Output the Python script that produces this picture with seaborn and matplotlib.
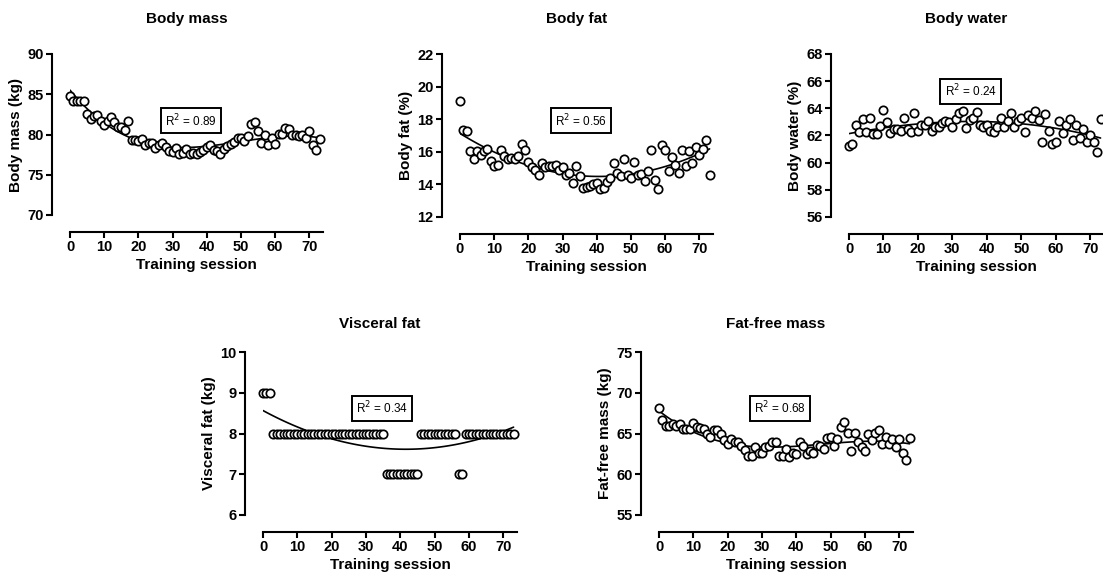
import numpy as np
import matplotlib
matplotlib.use("Agg")
import matplotlib.pyplot as plt
import seaborn as sns

sns.set_style("ticks")
plt.rcParams['font.family'] = ['Liberation Sans', 'DejaVu Sans']
plt.rcParams.update({"text.color": "black", "axes.labelcolor": "black",
                     "axes.edgecolor": "black", "xtick.color": "black",
                     "ytick.color": "black"})

# sessions 0..73
session = np.arange(74)

body_mass = [84.8, 84.2, 84.2, 84.2, 84.1, 82.5, 81.9, 82.3, 82.4, 81.7,
             81.2, 81.7, 82.2, 81.6, 80.9, 80.9, 80.6, 81.7, 79.3, 79.3,
             79.2, 79.5, 78.7, 78.9, 78.9, 78.3, 78.7, 79.0, 78.4, 78.0,
             77.8, 78.3, 77.6, 77.7, 78.2, 77.6, 77.7, 77.6, 77.8, 78.1,
             78.5, 78.7, 78.1, 78.0, 77.6, 78.2, 78.6, 78.8, 79.1, 79.6,
             79.6, 79.2, 79.8, 81.3, 81.5, 80.4, 78.9, 80.0, 78.7, 79.6,
             78.8, 80.1, 80.1, 80.8, 80.7, 80.0, 79.9, 79.8, 79.9, 79.6,
             80.4, 78.7, 78.1, 79.4]

body_fat = [19.1, 17.35, 17.3, 16.05, 15.55, 16.05, 15.8, 16.05, 16.15, 15.45,
            15.1, 15.2, 16.1, 15.75, 15.55, 15.65, 15.55, 15.75, 16.5, 16.1,
            15.35, 15.05, 14.9, 14.6, 15.3, 15.05, 15.1, 15.15, 15.2, 14.9,
            15.05, 14.55, 14.7, 14.1, 15.1, 14.5, 13.8, 13.85, 13.9, 14.05,
            14.1, 13.7, 13.75, 14.15, 14.4, 15.3, 14.7, 14.5, 15.55, 14.6,
            14.4, 15.4, 14.6, 14.65, 14.2, 14.8, 16.1, 14.3, 13.7, 16.4,
            16.1, 14.8, 15.7, 15.2, 14.7, 16.1, 15.1, 16.05, 15.3, 16.3,
            15.8, 16.2, 16.7, 14.6]

body_water = [61.2, 61.4, 62.8, 62.25, 63.25, 62.25, 63.3, 62.1, 62.1, 62.7,
              63.9, 63.0, 62.15, 62.5, 62.45, 62.35, 63.3, 62.45, 62.25, 63.65,
              62.35, 62.8, 62.75, 63.1, 62.35, 62.65, 62.65, 62.9, 63.1, 63.0,
              62.65, 63.2, 63.65, 63.8, 62.55, 63.15, 63.3, 63.75, 62.8, 62.6,
              62.8, 62.35, 62.25, 62.65, 63.3, 62.6, 63.1, 63.65, 62.6, 63.1,
              63.3, 62.25, 63.5, 63.3, 63.8, 63.15, 61.55, 63.6, 62.35, 61.4,
              61.55, 63.1, 62.2, 62.75, 63.25, 61.65, 62.8, 61.85, 62.45, 61.5,
              62.0, 61.55, 60.8, 63.2]

visceral_fat = [9, 9, 9] + [8] * 33 + [7] * 10 + [8] * 11 + [7, 7] + [8] * 15

fat_free_mass = [68.1, 66.7, 65.9, 65.9, 66.2, 65.9, 66.2, 65.6, 65.6, 65.6,
                 66.3, 65.8, 65.7, 65.5, 64.9, 64.6, 65.4, 65.4, 64.9, 64.2,
                 63.7, 64.3, 63.9, 63.9, 63.5, 63.0, 62.2, 62.2, 63.4, 62.6,
                 62.6, 63.4, 63.5, 63.9, 63.9, 62.3, 62.2, 63.1, 62.1, 62.6,
                 62.5, 63.9, 63.5, 62.5, 62.9, 62.6, 63.6, 63.5, 63.1, 64.5,
                 64.6, 63.5, 64.3, 65.8, 66.4, 65.1, 62.8, 65.1, 63.9, 63.4,
                 62.8, 64.9, 64.2, 65.1, 65.4, 63.7, 64.6, 63.7, 64.3, 63.3,
                 64.3, 62.6, 61.7, 64.5]

titles = ["Body mass", "Body fat", "Body water", "Visceral fat", "Fat-free mass"]
ylabels = ["Body mass (kg)", "Body fat (%)", "Body water (%)",
           "Visceral fat (kg)", "Fat-free mass (kg)"]
series = [body_mass, body_fat, body_water, visceral_fat, fat_free_mass]
r2_text = ["0.89", "0.56", "0.24", "0.34", "0.68"]
fit_order = [3, 2, 3, 2, 3]
ylims = [(70, 90), (12, 22), (56, 68), (6, 10), (55, 75)]
yticks = [[70, 75, 80, 85, 90], [12, 14, 16, 18, 20, 22],
          [56, 58, 60, 62, 64, 66, 68], [6, 7, 8, 9, 10], [55, 60, 65, 70, 75]]

W, H = 1103, 576
fig = plt.figure(figsize=(W / 100, H / 100), dpi=100)

# pixel boxes: left, top, right, bottom of the data area
boxes = [(70, 54, 323, 215), (460, 54, 713, 217), (849, 54, 1104, 217),
         (263, 352, 517, 515), (659, 352, 913, 515)]
r2_pos = [(0.478, 0.585), (0.477, 0.59), (0.477, 0.77), (0.468, 0.655), (0.476, 0.655)]

for i in range(5):
    l, t, r, b = boxes[i]
    ax = fig.add_axes([l / W, 1 - b / H, (r - l) / W, (b - t) / H])
    sns.regplot(x=session, y=np.array(series[i], dtype=float), order=fit_order[i], ci=None,
                ax=ax, truncate=True,
                scatter_kws=dict(s=36, facecolors="white", edgecolors="black",
                                 linewidths=1.25, clip_on=False, zorder=3, alpha=1),
                line_kws=dict(color="black", lw=1.2, zorder=2))
    ax.set_xlim(0, 74)
    ax.set_ylim(*ylims[i])
    ax.set_xticks(range(0, 80, 10))
    ax.set_yticks(yticks[i])
    sns.despine(ax=ax, offset=dict(left=13, bottom=12))
    for s in ["left", "bottom"]:
        ax.spines[s].set_linewidth(1.5)
    ax.tick_params(width=1.5, length=4, labelsize=10.5, pad=2)
    for lab in ax.get_xticklabels() + ax.get_yticklabels():
        lab.set_fontweight("bold")
    ax.set_xlabel("Training session", fontsize=11, fontweight="bold", labelpad=3)
    ax.set_ylabel(ylabels[i], fontsize=11, fontweight="bold", labelpad=3)
    ax.set_title(titles[i], fontsize=11, fontweight="bold", x=0.46,
                 pad=22 if i < 3 else 17)
    ax.text(r2_pos[i][0], r2_pos[i][1], "R$^2$ = " + r2_text[i], transform=ax.transAxes,
            ha="center", va="center", fontsize=8.5,
            bbox=dict(boxstyle="square,pad=0.35", fc="white", ec="black", lw=1.4))

fig.savefig("out.png", dpi=100)
